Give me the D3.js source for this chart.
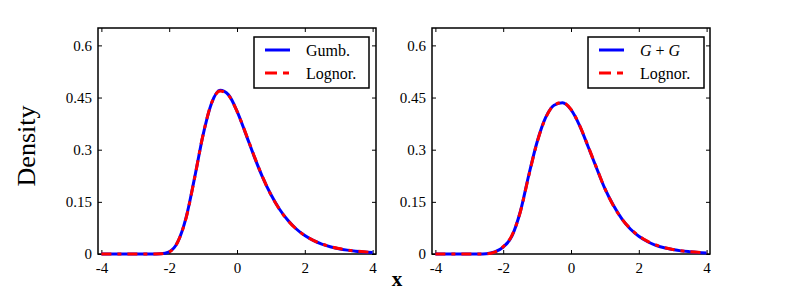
<!DOCTYPE html>
<html>
<head>
<meta charset="utf-8">
<script src="https://cdn.jsdelivr.net/npm/d3@7"></script>
<style>
    html, body { margin: 0; padding: 0; background: #fff; }
</style>
</head>
<body>
<div id="draw-area"></div>
<script>
// x grid shared by all curves
let xs = [-4, -3.75, -3.5, -3.25, -3, -2.75, -2.5, -2.25, -2, -1.75, -1.5, -1.25, -1, -0.75, -0.5, -0.25,
    0, 0.25, 0.5, 0.75, 1, 1.25, 1.5, 1.75, 2, 2.25, 2.5, 2.75, 3, 3.25, 3.5, 3.75, 4];

// left panel
let gumbel = [0, 0, 0, 0, 0, 0, 0, 0.0006, 0.0063, 0.034, 0.1054, 0.2197, 0.3428, 0.4336, 0.4708, 0.4577,
    0.4108, 0.3477, 0.2822, 0.222, 0.171, 0.1294, 0.0969, 0.0719, 0.053, 0.039, 0.0285, 0.0208, 0.0152, 0.0111, 0.008, 0.0058, 0.0042];
let lognorLeft = [0, 0, 0, 0, 0, 0, 0, 0.0004, 0.0058, 0.0345, 0.104, 0.219, 0.3435, 0.4345, 0.469, 0.456,
    0.4105, 0.349, 0.2835, 0.2225, 0.1705, 0.129, 0.0965, 0.0718, 0.0532, 0.0394, 0.0291, 0.0214, 0.0158, 0.0116, 0.0085, 0.0063, 0.0046];

// right panel
let gPlusG = [0, 0, 0, 0, 0, 0.0002, 0.001, 0.006, 0.02, 0.05, 0.12, 0.225, 0.322, 0.392, 0.428, 0.435,
    0.415, 0.37, 0.31, 0.248, 0.188, 0.14, 0.101, 0.072, 0.051, 0.036, 0.025, 0.018, 0.013, 0.009, 0.0065, 0.0045, 0.003];
let lognorRight = [0, 0, 0, 0, 0, 0.0001, 0.0005, 0.0055, 0.021, 0.052, 0.119, 0.223, 0.321, 0.391, 0.428, 0.436,
    0.416, 0.371, 0.311, 0.249, 0.188, 0.139, 0.101, 0.073, 0.052, 0.037, 0.026, 0.0185, 0.0132, 0.0094, 0.0067, 0.0048, 0.0034];

let xTicks = [-4, -2, 0, 2, 4];
let xTickLabels = ['-4', '-2', '0', '2', '4'];
let yTicks = [0, 0.15, 0.3, 0.45, 0.6];
let yTickLabels = ['0', '0.15', '0.3', '0.45', '0.6'];
let xDomain = [-4.1, 4.1];
let yDomain = [0, 0.65];

let panels = [
    { left: 98, right: 376, solid: gumbel, dashed: lognorLeft, name: ['Gumb.'], legend: [254, 369] },
    { left: 432, right: 710, solid: gPlusG, dashed: lognorRight, name: ['G', ' + ', 'G'], legend: [588, 704] }
];

let width = 789, height = 291, plotTop = 28, plotBottom = 254;
let serif = '"Liberation Serif", "Times New Roman", "DejaVu Serif", serif';

let svg = d3.select('#draw-area').append('svg')
    .attr('width', width)
    .attr('height', height)
    .attr('font-family', serif);

function draw(p) {
    let x = d3.scaleLinear().domain(xDomain).range([p.left, p.right]);
    let y = d3.scaleLinear().domain(yDomain).range([plotBottom, plotTop]);
    let g = svg.append('g');

    // frame
    g.append('rect')
        .attr('x', p.left).attr('y', plotTop)
        .attr('width', p.right - p.left).attr('height', plotBottom - plotTop)
        .attr('fill', 'none').attr('stroke', '#000').attr('stroke-width', 1.5);

    // ticks inside on all four sides
    let axB = g.append('g').attr('transform', `translate(0,${plotBottom})`)
        .call(d3.axisBottom(x).tickValues(xTicks).tickSize(-4).tickPadding(8)
            .tickFormat((d, i) => xTickLabels[i]));
    let axT = g.append('g').attr('transform', `translate(0,${plotTop})`)
        .call(d3.axisTop(x).tickValues(xTicks).tickSize(-4).tickFormat(''));
    let axL = g.append('g').attr('transform', `translate(${p.left},0)`)
        .call(d3.axisLeft(y).tickValues(yTicks).tickSize(-4).tickPadding(6)
            .tickFormat((d, i) => yTickLabels[i]));
    let axR = g.append('g').attr('transform', `translate(${p.right},0)`)
        .call(d3.axisRight(y).tickValues(yTicks).tickSize(-4).tickFormat(''));
    [axB, axT, axL, axR].forEach(a => {
        a.attr('font-family', serif).attr('font-size', 15);
        a.select('.domain').remove();
        a.selectAll('line').attr('stroke', '#000').attr('stroke-width', 1);
        a.selectAll('text').attr('fill', '#000');
    });

    let line = d3.line()
        .x((d, i) => x(xs[i]))
        .y(d => y(d))
        .curve(d3.curveMonotoneX);

    g.append('path').datum(p.solid)
        .attr('d', line).attr('fill', 'none')
        .attr('stroke', '#0000ff').attr('stroke-width', 3);
    g.append('path').datum(p.dashed)
        .attr('d', line).attr('fill', 'none')
        .attr('stroke', '#ff0000').attr('stroke-width', 3)
        .attr('stroke-dasharray', '10,6,4,6');

    // legend
    let lx0 = p.legend[0], lx1 = p.legend[1];
    g.append('rect')
        .attr('x', lx0).attr('y', 37).attr('width', lx1 - lx0).attr('height', 51)
        .attr('fill', '#fff').attr('stroke', '#000').attr('stroke-width', 1.5);
    let rows = [
        { y: 50, color: '#0000ff', dash: null },
        { y: 73, color: '#ff0000', dash: '12,6,6,6' }
    ];
    rows.forEach(r => {
        g.append('line')
            .attr('x1', lx0 + 11).attr('x2', lx0 + 36)
            .attr('y1', r.y).attr('y2', r.y)
            .attr('stroke', r.color).attr('stroke-width', 3)
            .attr('stroke-dasharray', r.dash);
    });
    let t1 = g.append('text')
        .attr('x', lx0 + 52).attr('y', 56)
        .attr('font-size', 16);
    p.name.forEach((s, i) => {
        t1.append('tspan').text(s)
            .attr('font-style', (p.name.length > 1 && i != 1) ? 'italic' : null)
            .attr('xml:space', 'preserve');
    });
    g.append('text')
        .attr('x', lx0 + 52).attr('y', 79)
        .attr('font-size', 16)
        .text('Lognor.');
}

panels.forEach(draw);

// axis titles
svg.append('text')
    .attr('transform', 'translate(35,146) rotate(-90)')
    .attr('text-anchor', 'middle')
    .attr('font-size', 26)
    .text('Density');

svg.append('text')
    .attr('x', 397).attr('y', 286)
    .attr('text-anchor', 'middle')
    .attr('font-size', 21)
    .attr('font-weight', 'bold')
    .text('x');
</script>
</body>
</html>
